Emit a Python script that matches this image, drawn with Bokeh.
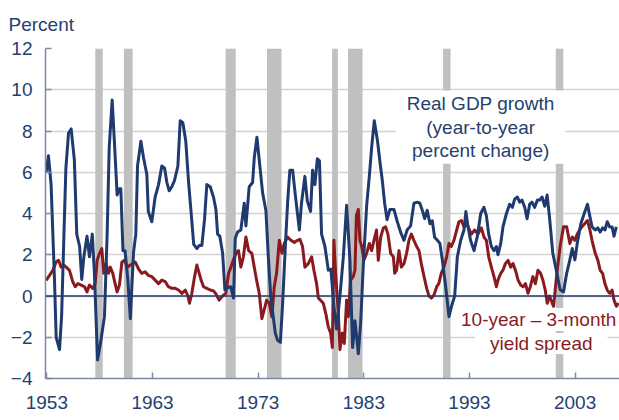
from bokeh.plotting import figure
from bokeh.models import Range1d, FixedTicker, Span, Label
from bokeh.embed import file_html
from bokeh.resources import INLINE

# ---------------- data ----------------
tick_years = [1953, 1963, 1973, 1983, 1993, 2003]
y_ticks = [-4, -2, 0, 2, 4, 6, 8, 10, 12]

rec_start = [1957.58, 1960.29, 1969.92, 1973.83, 1980.00, 1981.50, 1990.50, 2001.17]
rec_end = [1958.29, 1961.12, 1970.88, 1975.21, 1980.54, 1982.88, 1991.21, 2001.88]

gdp_year = [1952.93, 1953.15, 1953.40, 1953.72, 1953.88, 1954.20, 1954.40, 1954.60, 1954.80,
            1955.05, 1955.30, 1955.60, 1955.83, 1956.10, 1956.30, 1956.50, 1956.80, 1957.03,
            1957.30, 1957.50, 1957.80, 1958.10, 1958.45, 1958.70, 1958.90, 1959.18, 1959.40,
            1959.65, 1959.87, 1960.00, 1960.20, 1960.40, 1960.66, 1960.90, 1961.20, 1961.42,
            1961.58, 1961.90, 1962.15, 1962.46, 1962.60, 1962.93, 1963.25, 1963.57, 1963.88,
            1964.14, 1964.36, 1964.58, 1964.83, 1965.08, 1965.40, 1965.62, 1965.87, 1966.15,
            1966.40, 1966.66, 1966.90, 1967.20, 1967.42, 1967.67, 1967.92, 1968.14, 1968.46,
            1968.77, 1969.00, 1969.16, 1969.37, 1969.63, 1969.85, 1970.10, 1970.40, 1970.67,
            1970.83, 1971.05, 1971.36, 1971.68, 1971.84, 1972.15, 1972.47, 1972.63, 1972.88,
            1973.10, 1973.42, 1973.73, 1973.96, 1974.20, 1974.62, 1974.84, 1975.10, 1975.30,
            1975.57, 1975.80, 1976.00, 1976.26, 1976.57, 1976.90, 1977.10, 1977.42, 1977.65,
            1977.96, 1978.15, 1978.37, 1978.60, 1978.80, 1979.00, 1979.32, 1979.64, 1979.88,
            1980.17, 1980.42, 1980.74, 1981.06, 1981.37, 1981.68, 1981.94, 1982.16, 1982.48,
            1982.70, 1982.95, 1983.27, 1983.52, 1983.74, 1983.99, 1984.30, 1984.55, 1984.75,
            1984.97, 1985.20, 1985.47, 1985.85, 1986.17, 1986.48, 1986.80, 1987.10, 1987.43,
            1987.74, 1988.07, 1988.30, 1988.54, 1988.76, 1989.00, 1989.26, 1989.48, 1989.70,
            1989.96, 1990.20, 1990.43, 1990.75, 1991.06, 1991.30, 1991.60, 1991.85, 1992.17,
            1992.48, 1992.66, 1992.85, 1993.10, 1993.43, 1993.75, 1994.06, 1994.37, 1994.60,
            1994.82, 1995.07, 1995.32, 1995.55, 1995.70, 1995.96, 1996.17, 1996.50, 1996.80,
            1997.06, 1997.28, 1997.53, 1997.75, 1997.97, 1998.23, 1998.45, 1998.70, 1998.92,
            1999.17, 1999.43, 1999.65, 1999.87, 2000.13, 2000.35, 2000.58, 2000.88, 2001.27,
            2001.58, 2001.90, 2002.20, 2002.50, 2002.73, 2002.98, 2003.20, 2003.54, 2003.86,
            2004.17, 2004.40, 2004.60, 2004.90, 2005.15, 2005.37, 2005.60, 2005.82, 2006.04,
            2006.27, 2006.50, 2006.68, 2006.90]
gdp_value = [6.0, 6.8, 5.4, 0.8, -2.0, -2.6, -0.9, 2.7, 6.2,
             7.9, 8.1, 6.6, 3.0, 2.4, 0.8, 1.9, 2.9, 1.9,
             3.0, 1.1, -3.1, -2.2, -1.0, 2.9, 7.2, 9.5, 7.4,
             4.9, 5.2, 5.2, 2.2, 2.2, 0.8, -1.1, 2.1, 3.0,
             6.3, 7.5, 6.7, 5.9, 4.1, 3.6, 4.8, 5.4, 6.3,
             6.2, 5.5, 5.1, 5.3, 5.6, 6.3, 8.5, 8.4, 7.5,
             5.6, 4.0, 2.5, 2.3, 2.45, 2.45, 3.7, 5.4, 5.3,
             4.8, 4.2, 3.0, 2.9, 2.1, 0.3, 0.4, 0.45, -0.1,
             2.8, 3.1, 3.2, 4.5, 3.4, 5.3, 5.5, 6.7, 7.7,
             6.6, 5.0, 4.15, 1.9, -0.1, -1.8, -2.15, -2.25, -0.5,
             2.4, 4.65, 6.1, 6.1, 4.65, 3.2, 4.5, 5.8, 4.6,
             4.1, 6.1, 5.4, 6.65, 6.55, 3.0, 2.4, 1.25, 1.3,
             -0.5, -1.6, 0.0, 1.9, 4.4, 1.8, -2.5, -1.2, -2.8,
             -1.3, 1.5, 4.4, 5.8, 7.2, 8.5, 7.5, 6.4, 5.6,
             4.5, 3.7, 4.2, 4.2, 3.6, 3.1, 2.7, 3.2, 3.4,
             4.5, 4.55, 4.5, 4.15, 3.75, 4.15, 3.5, 3.65, 2.85,
             2.7, 2.55, 1.75, 0.45, -1.0, -0.5, 0.0, 1.9, 2.7,
             3.2, 4.1, 3.4, 2.7, 2.2, 2.9, 4.0, 4.3, 3.9,
             3.0, 2.4, 2.2, 2.4, 2.0, 2.55, 3.35, 4.0, 4.45,
             4.3, 4.7, 4.8, 4.55, 4.65, 4.3, 3.75, 4.45, 4.55,
             4.3, 4.65, 4.65, 4.8, 4.35, 4.9, 3.8, 2.1, 1.1,
             0.3, 0.2, 1.1, 1.75, 2.3, 1.75, 2.55, 3.5, 4.0,
             4.45, 3.85, 3.35, 3.2, 3.3, 3.1, 3.3, 3.2, 3.6,
             3.35, 3.35, 2.9, 3.35]

spread_year = [1952.93, 1953.25, 1953.56, 1953.88, 1954.10, 1954.35, 1954.60, 1954.83, 1955.14,
               1955.45, 1955.68, 1955.93, 1956.25, 1956.56, 1956.80, 1957.03, 1957.35, 1957.57,
               1957.76, 1957.98, 1958.20, 1958.39, 1958.60, 1958.83, 1959.00, 1959.24, 1959.46,
               1959.65, 1959.87, 1960.10, 1960.35, 1960.60, 1960.90, 1961.36, 1961.67, 1961.98,
               1962.30, 1962.60, 1962.93, 1963.25, 1963.57, 1963.88, 1964.20, 1964.50, 1964.83,
               1965.15, 1965.46, 1965.78, 1966.10, 1966.35, 1966.50, 1966.72, 1966.98, 1967.20,
               1967.42, 1967.60, 1967.83, 1968.14, 1968.46, 1968.77, 1969.00, 1969.30, 1969.63,
               1969.94, 1970.20, 1970.42, 1970.64, 1970.89, 1971.14, 1971.36, 1971.60, 1971.84,
               1972.10, 1972.40, 1972.63, 1972.85, 1973.10, 1973.35, 1973.58, 1973.80, 1974.05,
               1974.30, 1974.52, 1974.74, 1975.00, 1975.25, 1975.47, 1975.78, 1976.10, 1976.42,
               1976.73, 1976.95, 1977.20, 1977.42, 1977.74, 1978.06, 1978.28, 1978.53, 1978.70,
               1978.90, 1979.16, 1979.40, 1979.64, 1979.86, 1980.02, 1980.17, 1980.33, 1980.59,
               1980.74, 1980.96, 1981.15, 1981.37, 1981.53, 1981.75, 1982.00, 1982.16, 1982.30,
               1982.48, 1982.63, 1982.80, 1983.00, 1983.27, 1983.52, 1983.74, 1983.96, 1984.20,
               1984.37, 1984.60, 1984.85, 1985.06, 1985.28, 1985.54, 1985.80, 1985.92, 1986.10,
               1986.33, 1986.55, 1986.80, 1987.05, 1987.27, 1987.50, 1987.74, 1988.00, 1988.22,
               1988.44, 1988.70, 1988.95, 1989.17, 1989.40, 1989.64, 1989.90, 1990.10, 1990.33,
               1990.58, 1990.84, 1991.06, 1991.28, 1991.53, 1991.79, 1992.00, 1992.24, 1992.48,
               1992.73, 1992.86, 1993.18, 1993.50, 1993.80, 1994.13, 1994.37, 1994.60, 1994.82,
               1995.07, 1995.32, 1995.55, 1995.70, 1995.96, 1996.17, 1996.40, 1996.65, 1996.90,
               1997.12, 1997.35, 1997.60, 1997.85, 1998.07, 1998.30, 1998.54, 1998.76, 1999.00,
               1999.24, 1999.48, 1999.73, 1999.95, 2000.17, 2000.36, 2000.58, 2000.80, 2000.96,
               2001.27, 2001.58, 2001.90, 2002.20, 2002.50, 2002.73, 2002.98, 2003.20, 2003.42,
               2003.65, 2003.90, 2004.17, 2004.40, 2004.60, 2004.90, 2005.15, 2005.37, 2005.60,
               2005.82, 2006.04, 2006.27, 2006.50, 2006.68, 2006.90, 2007.10]
spread_value = [0.76, 1.0, 1.24, 1.65, 1.73, 1.4, 1.5, 1.4, 1.24,
                0.7, 0.45, 0.6, 0.53, 0.45, 0.2, 0.53, 0.37, 0.6,
                1.73, 2.07, 2.3, 1.1, 1.57, 1.1, 1.4, 1.1, 0.6,
                0.2, 0.53, 1.65, 1.73, 1.4, 1.5, 1.65, 1.32, 1.1,
                1.17, 1.0, 0.94, 0.77, 0.6, 0.77, 0.7, 0.45, 0.37,
                0.37, 0.29, 0.13, 0.29, 0.0, -0.35, 0.13, 0.94, 1.5,
                1.1, 0.77, 0.45, 0.37, 0.29, 0.25, 0.1, -0.2, 0.0,
                0.13, 1.1, 1.4, 1.73, 2.07, 2.2, 1.4, 1.9, 2.86,
                2.2, 2.07, 1.4, 0.77, 0.13, -1.1, -0.65, -0.2, -0.35,
                -1.0, 0.45, 1.1, 2.7, 2.07, 2.55, 2.86, 2.7, 2.6,
                2.7, 2.75, 2.4, 1.4, 1.57, 1.9, 1.24, 0.6, -0.1,
                -0.2, -0.35, -0.85, -1.5, -1.8, -2.5, 2.7, 1.1, -0.85,
                -2.6, -1.8, -2.3, -0.2, -1.0, 0.77, 0.94, 1.25, 3.9,
                4.2, 2.7, 2.4, 1.73, 2.07, 2.55, 2.2, 2.7, 3.2,
                1.73, 2.86, 3.3, 3.36, 3.0, 2.07, 1.9, 1.1, 1.25,
                2.2, 1.4, 1.57, 2.07, 2.7, 3.0, 2.7, 2.4, 2.2,
                1.57, 0.94, 0.37, 0.0, -0.1, 0.05, 0.45, 0.6, 1.1,
                1.4, 1.9, 2.55, 2.4, 2.7, 3.2, 3.6, 3.66, 3.36,
                3.5, 3.36, 3.0, 3.2, 3.0, 3.3, 2.86, 2.7, 1.9,
                1.4, 0.94, 0.45, 0.77, 1.1, 1.25, 1.57, 1.73, 1.4,
                1.57, 1.25, 0.77, 0.53, 0.45, 0.6, 0.13, 0.45, 0.94,
                0.6, 1.25, 1.1, 0.77, 0.29, -0.35, 0.0, -0.3, -0.5,
                1.1, 2.4, 3.36, 3.36, 2.55, 2.86, 2.7, 3.0, 3.2,
                3.36, 3.5, 3.66, 3.2, 2.7, 2.07, 1.74, 1.25, 1.1,
                0.6, 0.29, 0.13, 0.29, -0.2, -0.5, -0.35]

# ---------------- style ----------------
NAVY = "#1f3a6e"
TEXT = "#243f70"
RED = "#8b1a1f"
FONT = "Liberation Sans"

p = figure(width=619, height=420, output_backend="svg", toolbar_location=None,
           x_range=Range1d(1952.87, 2007.2), y_range=Range1d(y_ticks[0], y_ticks[-1]),
           min_border_left=45, min_border_right=0, min_border_top=48, min_border_bottom=42)
p.outline_line_color = None
p.background_fill_color = "white"

p.title.text = "Percent"
p.title.align = "left"
p.title.offset = -37
p.title.vertical_align = "top"
p.title.standoff = 23
p.title.text_font = FONT
p.title.text_font_size = "19px"
p.title.text_font_style = "normal"
p.title.text_color = TEXT

p.xgrid.grid_line_color = None
p.ygrid.ticker = FixedTicker(ticks=y_ticks)
p.ygrid.grid_line_color = "#d3d3d3"
p.ygrid.grid_line_width = 1.5

for ax in (p.xaxis[0], p.yaxis[0]):
    ax.major_label_text_font = FONT
    ax.major_label_text_font_size = "19px"
    ax.major_label_text_color = TEXT
    ax.axis_line_color = "#7d8aa5"
    ax.axis_line_width = 1.5
    ax.major_tick_line_color = "#7d8aa5"
    ax.major_tick_line_width = 1.5
    ax.major_tick_in = 6
    ax.major_tick_out = 0
    ax.minor_tick_line_color = None

p.xaxis.ticker = FixedTicker(ticks=tick_years)
p.xaxis.major_label_standoff = 17
p.yaxis.ticker = FixedTicker(ticks=y_ticks)
p.yaxis.major_label_standoff = 13

# recession bars
p.quad(left=rec_start, right=rec_end, bottom=y_ticks[0], top=y_ticks[-1],
       fill_color="#c0c0c0", line_color=None)

# series
p.line(spread_year, spread_value, line_color=RED, line_width=3, line_join="round")
p.line(gdp_year, gdp_value, line_color=NAVY, line_width=3, line_join="round")

p.add_layout(Span(location=0, dimension="width", line_color=NAVY, line_width=1.5))

# captions (padding = (horizontal, vertical))
p.add_layout(Label(x=1994.06, y=8.19, text="Real GDP growth\n(year-to-year\npercent change)",
                   text_align="center", text_baseline="middle", text_font=FONT,
                   text_font_size="19px", text_color=TEXT, text_line_height=1.1,
                   background_fill_color="white", padding=(11, 3)))
p.add_layout(Label(x=1999.55, y=-1.14, text="10-year \u2013 3-month",
                   text_align="center", text_baseline="middle", text_font=FONT,
                   text_font_size="19px", text_color=RED, background_fill_color="white",
                   padding=(1, 1)))
p.add_layout(Label(x=1999.8, y=-2.3, text="yield spread",
                   text_align="center", text_baseline="middle", text_font=FONT,
                   text_font_size="19px", text_color=RED, background_fill_color="white",
                   padding=(15, 0)))

open("out.html", "w").write(file_html(p, INLINE))
